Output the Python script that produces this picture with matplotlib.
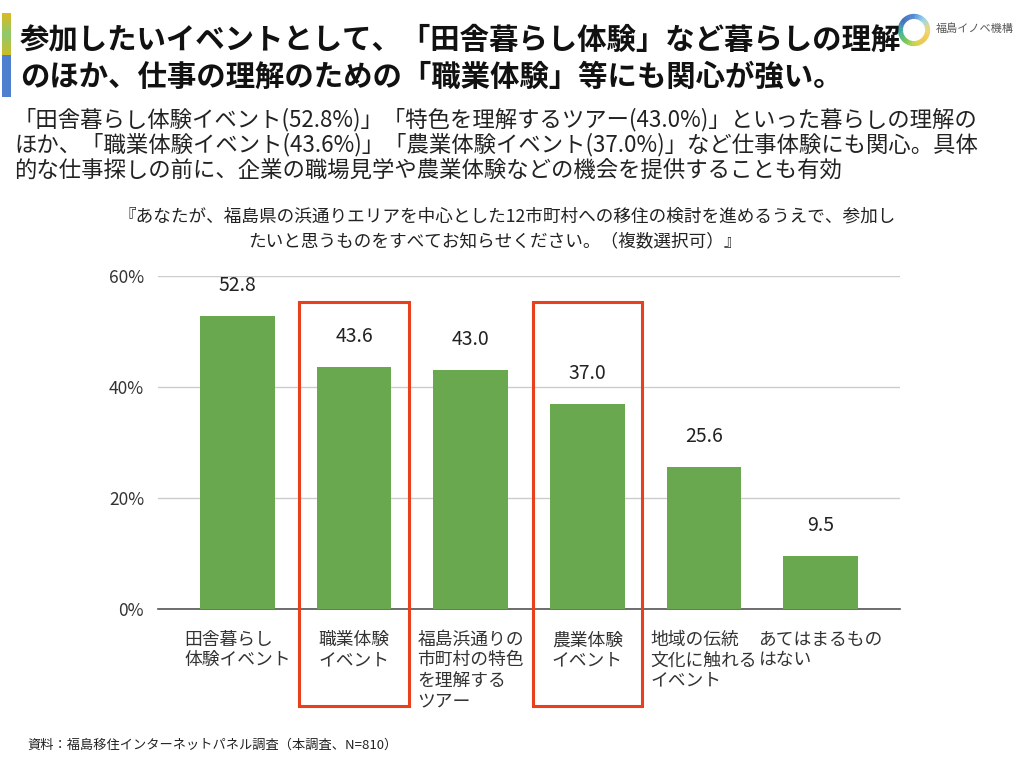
import matplotlib
matplotlib.use('Agg')
import matplotlib.pyplot as plt
from matplotlib.patches import Rectangle, Wedge
from matplotlib.colors import LinearSegmentedColormap
import numpy as np

plt.rcParams['font.family'] = ['Noto Sans CJK JP', 'DejaVu Sans']

# data
categories = ['田舎暮らし\n体験イベント', '職業体験\nイベント', '福島浜通りの\n市町村の特色\nを理解する\nツアー',
              '農業体験\nイベント', '地域の伝統\n文化に触れる\nイベント', 'あてはまるもの\nはない']
values = [52.8, 43.6, 43.0, 37.0, 25.6, 9.5]
highlight = [1, 3]
yticks = [0, 20, 40, 60]

title_lines = ['参加したいイベントとして、「田舎暮らし体験」など暮らしの理解',
               'のほか、仕事の理解のための「職業体験」等にも関心が強い。']
sub_lines = ['「田舎暮らし体験イベント(52.8%)」「特色を理解するツアー(43.0%)」といった暮らしの理解の',
             'ほか、「職業体験イベント(43.6%)」「農業体験イベント(37.0%)」など仕事体験にも関心。具体',
             '的な仕事探しの前に、企業の職場見学や農業体験などの機会を提供することも有効']
question_lines = ['『あなたが、福島県の浜通りエリアを中心とした12市町村への移住の検討を進めるうえで、参加し',
                  'たいと思うものをすべてお知らせください。（複数選択可）』']
source = '資料：福島移住インターネットパネル調査（本調査、N=810）'

W, H = 1020, 758
fig = plt.figure(figsize=(W / 100, H / 100), dpi=100)

def fx(px):
    return px / W

def fy(py):
    return 1 - py / H

# left colour strip (yellow - green - yellow, then blue)
strip = LinearSegmentedColormap.from_list('strip', ['#d6bb22', '#8cc96e', '#c9bd2a'])
n_strip = 14
for k in range(n_strip):
    y0 = 13 + k * 42 / n_strip
    fig.patches.append(Rectangle((fx(2), fy(y0 + 42 / n_strip)), fx(9), 42 / n_strip / H + 0.0005,
                                 transform=fig.transFigure, color=strip(k / (n_strip - 1)), lw=0))
fig.patches.append(Rectangle((fx(2), fy(97)), fx(9), 42 / H, transform=fig.transFigure,
                             color='#4f7fcf', lw=0))

# headline
for i, line in enumerate(title_lines):
    fig.text(fx(20), fy(40 + i * 37), line, fontsize=21.2, fontweight='bold',
             va='center', ha='left', color='#111111')

for i, line in enumerate(sub_lines):
    fig.text(fx(14), fy(120 + i * 25), line, fontsize=16.1, va='center', ha='left', color='#222222')

for i, line in enumerate(question_lines):
    fig.text(fx(507 - i * 12), fy(216 + i * 25), line, fontsize=12.7, va='center', ha='center',
             color='#222222')

fig.text(fx(27), fy(745), source, fontsize=9.5, va='center', ha='left', color='#222222')

# logo
lax = fig.add_axes([fx(897), fy(47), 34 / W, 34 / H])
lax.set_xlim(-1, 1)
lax.set_ylim(-1, 1)
lax.set_aspect('equal')
lax.axis('off')
ring_cmap = LinearSegmentedColormap.from_list(
    'ring', ['#3f7fd0', '#2f5fb8', '#2aa7a0', '#5cbf4a', '#c8d23a', '#f0c23a', '#e9d66a', '#8fd0e8', '#3f7fd0'])
n_seg = 48
for k in range(n_seg):
    a0 = 90 + k * 360 / n_seg
    lax.add_patch(Wedge((0, 0), 0.95, a0, a0 + 360 / n_seg + 1, width=0.3,
                        color=ring_cmap(k / n_seg), lw=0, alpha=0.9))
fig.text(fx(936), fy(29), '福島イノベ機構', fontsize=8, color='#555555', va='center', ha='left')

# chart
ax = fig.add_axes([fx(158), fy(609), fx(900) - fx(158), (609 - 276) / H])
x = np.arange(len(categories))
ax.bar(x, values, width=0.64, color='#6aa84f', zorder=3)
ax.set_xlim(-0.68, len(categories) - 1 + 0.68)
ax.set_ylim(0, 60)
ax.set_yticks(yticks)
ax.set_yticklabels([f'{v}%' for v in yticks], fontsize=12.5, color='#333333')
ax.yaxis.grid(True, color='#cccccc', lw=1, zorder=0)
for s in ['top', 'right', 'left']:
    ax.spines[s].set_visible(False)
ax.spines['bottom'].set_color('#555555')
ax.spines['bottom'].set_linewidth(1.2)
ax.tick_params(axis='both', length=0)
ax.tick_params(axis='y', pad=10)
ax.tick_params(axis='x', pad=16)
ax.set_xticks(x)
ax.set_xticklabels(categories, fontsize=12.8, color='#333333', linespacing=1.16,
                   multialignment='left', va='top')

for xi, v in zip(x, values):
    ax.annotate(f'{v:.1f}', (xi, v), xytext=(0, 22), textcoords='offset points',
                ha='center', va='center', fontsize=14, color='#222222')

for i in highlight:
    ax.add_patch(Rectangle((i - 0.47, -17.5), 0.94, 72.8, fill=False, ec='#e8401c', lw=2.2,
                           clip_on=False, zorder=4))

fig.savefig('out.png', dpi=100)
